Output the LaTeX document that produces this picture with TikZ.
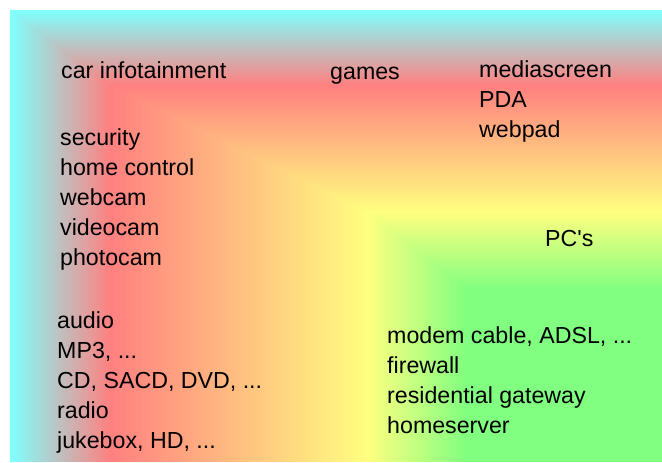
\documentclass[tikz,border=0pt]{standalone}
\usepackage{fontspec}
\setmainfont{Liberation Sans}
\definecolor{hcyan}{RGB}{128,255,255}
\definecolor{hred}{RGB}{255,128,128}
\definecolor{hyellow}{RGB}{255,255,128}
\definecolor{hgreen}{RGB}{128,255,128}
\tikzset{
  lbl/.style={anchor=base west, align=left, inner sep=0pt,
    font=\fontsize{23.2}{30}\selectfont}
}
\begin{document}
\begin{tikzpicture}[x=1pt,y=-1pt]
        \useasboundingbox (0,0) rectangle (662,463);

        % background: nested rectangles, cyan -> red -> yellow -> green
        \foreach \xa/\xb/\ya/\yb/\ca/\cb in
          {10/110/10/85/hcyan/hred,
           110/367/85/212/hred/hyellow,
           367/467/212/290/hyellow/hgreen}
        {
          \foreach \p in {0,...,100}
          {
            \pgfmathsetmacro\bx{\xa+(\xb-\xa)/100*\p}
            \pgfmathsetmacro\by{\ya+(\yb-\ya)/100*\p}
            \fill[\cb!\p!\ca] (\bx,\by) rectangle (662,462);
          }
        }

        % last line of each block sits at the given baseline
        \node[lbl] (car) at (61,78) {car infotainment};
        \node[lbl] (games) at (330,79) {games};
        \node[lbl] (mobile) at (479,137) {mediascreen\\PDA\\webpad};
        \node[lbl] (home) at (60,265) {security\\home control\\webcam\\videocam\\photocam};
        \node[lbl] (pcs) at (545,246) {PC\textquotesingle s};
        \node[lbl] (audio) at (57,448) {audio\\MP3, ...\\CD, SACD, DVD, ...\\radio\\jukebox, HD, ...};
        \node[lbl] (net) at (387,433) {modem cable, ADSL, ...\\firewall\\residential gateway\\homeserver};
\end{tikzpicture}
\end{document}
